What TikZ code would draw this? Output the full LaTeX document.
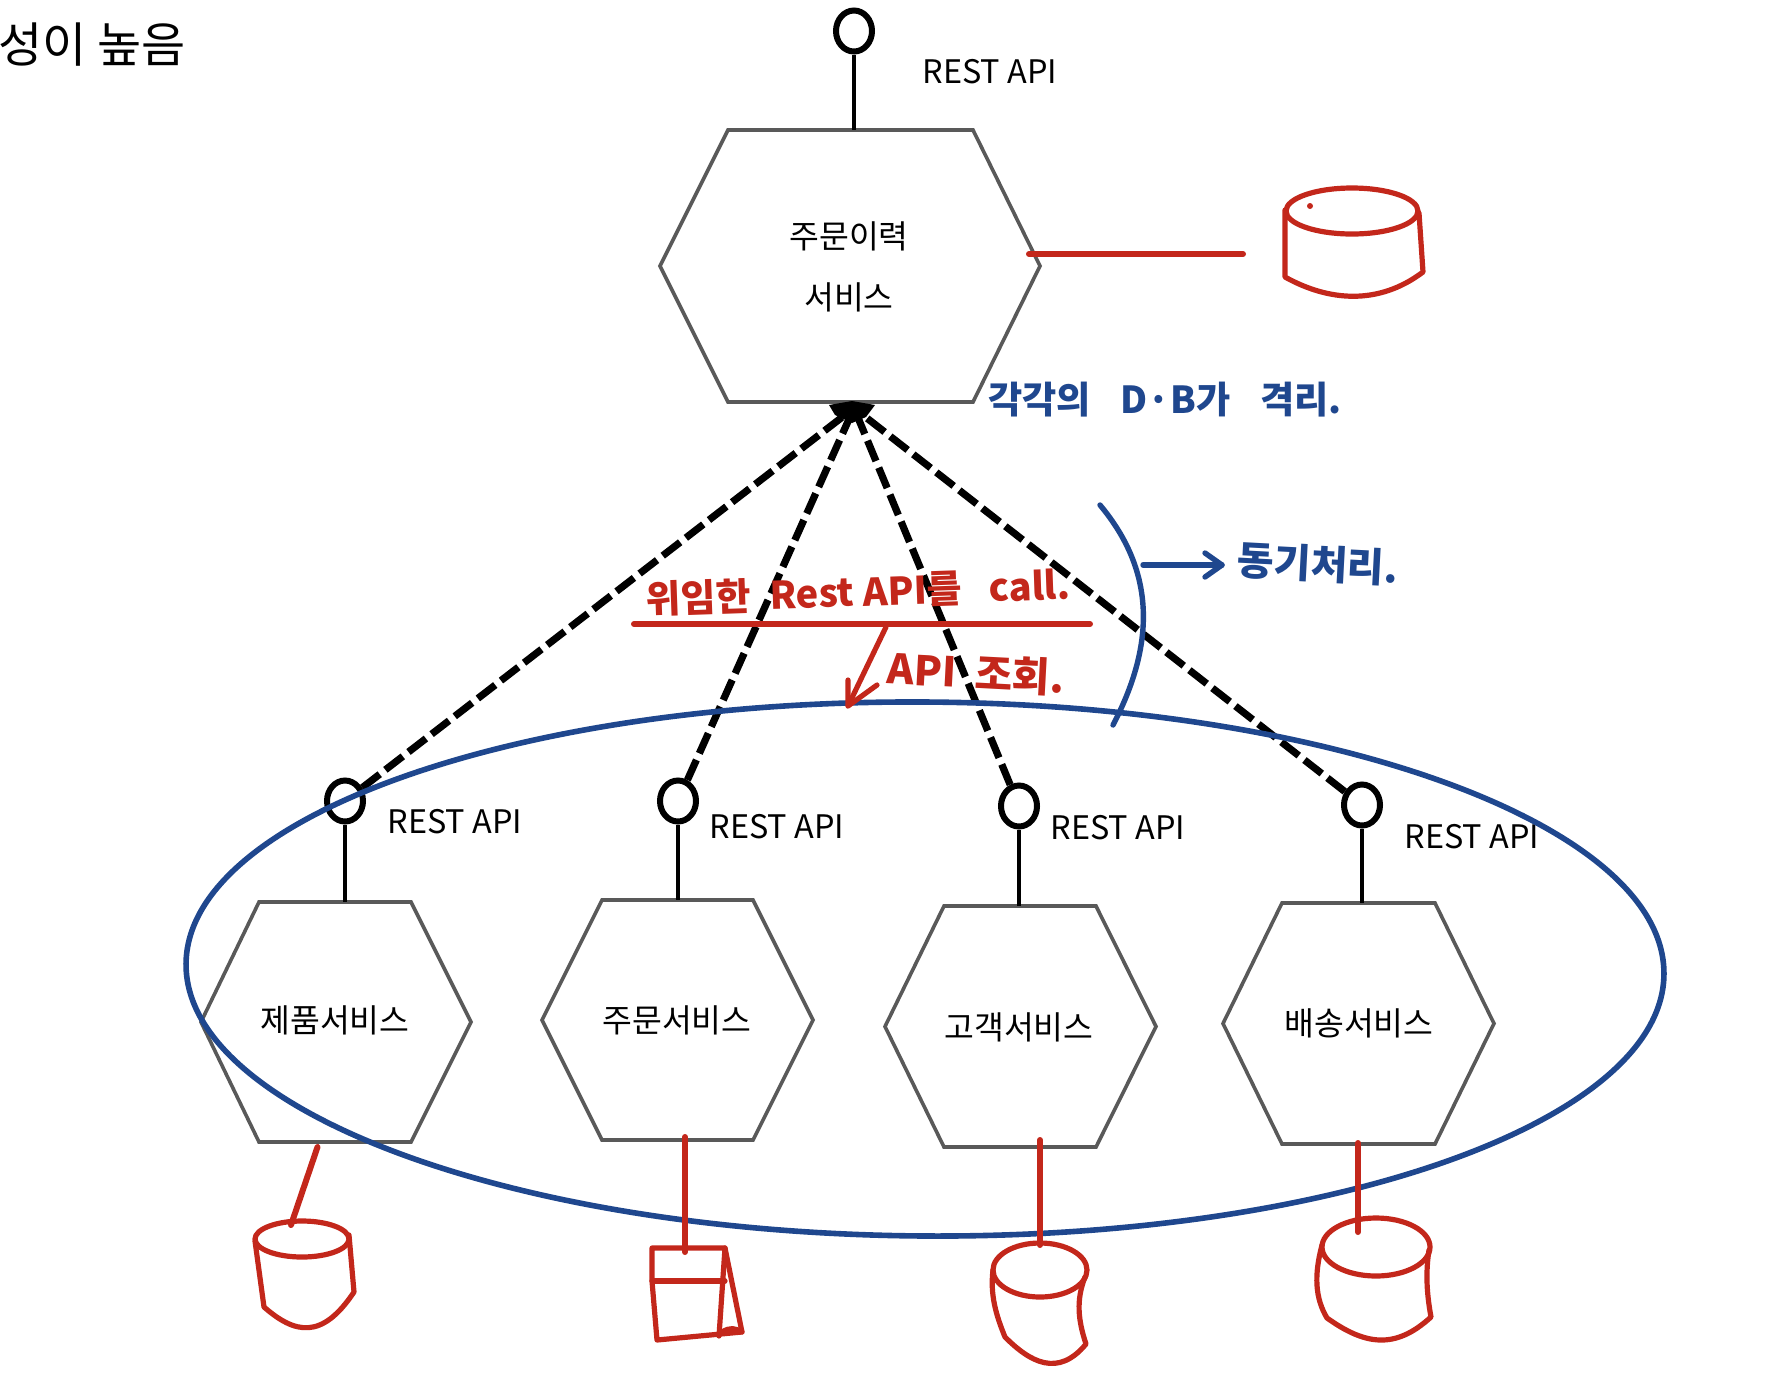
\documentclass[tikz,border=0pt]{standalone}
\usepackage{fontspec}
\setmainfont{Noto Sans CJK KR}
\usetikzlibrary{shapes.geometric,calc}
\definecolor{redink}{HTML}{C3271B}
\definecolor{blueink}{HTML}{1F478E}
\definecolor{hexgray}{HTML}{595959}
\tikzset{
  x=0.5pt,y=-0.5pt,
  hexline/.style={draw=hexgray,line width=1.8pt,line join=miter},
  label/.style={font=\fontsize{16.2}{19}\selectfont,text=black,inner sep=0pt},
  lolli/.style={ellipse,draw=black,line width=3pt,minimum width=18pt,minimum height=20.5pt,inner sep=0pt},
  stem/.style={draw=black,line width=1.8pt},
  dashline/.style={draw=black,line width=3.6pt,dash pattern=on 11pt off 3.6pt},
  redpen/.style={draw=redink,line width=2.6pt,line cap=round,line join=round},
  redlink/.style={draw=redink,line width=3pt,line cap=round,line join=round},
  bluepen/.style={draw=blueink,line width=2.7pt,line cap=round,line join=round},
  bluehand/.style={font=\fontsize{18.6}{22}\selectfont\bfseries,text=blueink,inner sep=0pt},
  redhand/.style={font=\fontsize{19}{22}\selectfont\bfseries,text=redink,inner sep=0pt},
}
% name, x left, x1, x2, x right, y top, y bottom
\newcommand{\hexbox}[7]{%
  \draw[hexline] (#2,{(#6+#7)/2}) -- (#3,#6) -- (#4,#6) -- (#5,{(#6+#7)/2}) -- (#4,#7) -- (#3,#7) -- cycle;
  \coordinate (#1-t) at ({(#3+#4)/2},#6);
  \coordinate (#1-b) at ({(#3+#4)/2},#7);
}
\begin{document}
\begin{tikzpicture}
\useasboundingbox (0,0) rectangle (1790,1394);
% title
\node[anchor=east,font=\fontsize{24}{28}\selectfont,inner sep=0pt] (title) at (186,45) {성이 높음};
% hexagons
\hexbox{top}{660}{728}{973}{1040}{130}{402}
\hexbox{h1}{201}{259}{411}{471}{902}{1142}
\hexbox{h2}{542}{602}{753}{813}{900}{1140}
\hexbox{h3}{885}{944}{1096}{1156}{906}{1147}
\hexbox{h4}{1223}{1282}{1435}{1494}{903}{1144}
\node[label] (topa) at (849,236) {주문이력};
\node[label] (topb) at (849,297) {서비스};
\node[label] (s1) at (335,1020) {제품서비스};
\node[label] (s2) at (677,1020) {주문서비스};
\node[label] (s3) at (1019,1027) {고객서비스};
\node[label] (s4) at (1359,1023) {배송서비스};
% lollipops
\node[lolli] (p0) at (854,31) {};
\node[lolli] (p1) at (345,801) {};
\node[lolli] (p2) at (678,801) {};
\node[lolli] (p3) at (1019,806) {};
\node[lolli] (p4) at (1362,805) {};
\draw[stem] (p0.south) -- (p0.south |- top-t);
\draw[stem] (p1.south) -- (p1.south |- h1-t);
\draw[stem] (p2.south) -- (p2.south |- h2-t);
\draw[stem] (p3.south) -- (p3.south |- h3-t);
\draw[stem] (p4.south) -- (p4.south |- h4-t);
\node[label] (r0) at (990,72) {REST API};
\node[label] (r1) at (455,822) {REST API};
\node[label] (r2) at (777,827) {REST API};
\node[label] (r3) at (1118,828) {REST API};
\node[label] (r4) at (1472,837) {REST API};
% dashed connectors
\coordinate (apex) at (854,408);
\draw[dashline] (p1) -- (apex);
\draw[dashline] (p2) -- (apex);
\draw[dashline] (p3) -- (apex);
\draw[dashline] (p4) -- (apex);
\fill[black] (829,405) -- (852,401) -- (875,405) -- (866,417) -- (852,423) -- (835,415) -- cycle;
% big ellipse
\draw[draw=blueink,line width=2.8pt,rotate around={-0.4:(925,969)}] (925,969) ellipse [x radius=739,y radius=267];
% red database connectors
\draw[redlink] (1029,254) -- (1243,254);
\draw[redlink] (317.5,1147) -- (291,1225);
\draw[redlink] (685,1137) -- (685,1252);
\draw[redlink] (1040,1140) -- (1040,1245);
\draw[redlink] (1358,1143) -- (1358,1232);
% db top
\draw[redpen] (1352,211) ellipse [x radius=66,y radius=23];
\draw[redpen] (1285,210) -- (1285,277) .. controls (1328,301) and (1378,306) .. (1423,272) -- (1419,213);
\fill[redink] (1310,206) circle [radius=3];
% db 1
\draw[redpen] (302,1239) ellipse [x radius=47,y radius=18];
\draw[redpen] (255,1241) -- (264,1307) .. controls (295,1334) and (322,1340) .. (354,1292) -- (349,1235);
% doc
\draw[redpen] (652,1248) -- (725,1248) -- (742,1332) -- (657,1340) -- (652,1281) -- cycle;
\draw[redpen] (652,1281) -- (725,1281);
\draw[redpen] (725,1248) -- (719,1336);
\draw[redpen] (722,1332) .. controls (730,1327) and (735,1328) .. (742,1332);
% db 3
\draw[redpen] (1040,1270) ellipse [x radius=47,y radius=27];
\draw[redpen] (993,1270) .. controls (990,1295) and (996,1315) .. (1005,1337) .. controls (1030,1362) and (1058,1378) .. (1086,1344) .. controls (1078,1320) and (1076,1300) .. (1085,1277);
% db 4
\draw[redpen] (1376,1247) ellipse [x radius=54,y radius=29];
\draw[redpen] (1322,1245) .. controls (1314,1275) and (1315,1298) .. (1327,1318) .. controls (1365,1345) and (1395,1350) .. (1431,1317) .. controls (1426,1290) and (1426,1270) .. (1429,1250);
% red annotation
\draw[redlink] (634,624) -- (1090,624);
\coordinate (tipa) at (848,706);
\draw[redpen] (886,627) -- (tipa);
\draw[redpen] (848,680) -- (tipa) -- (877,685);
\node[redhand,rotate=2] (ann1) at (858,592) {위임한\hspace{0.5em}Rest API를\hspace{0.7em}call.};
\node[redhand,rotate=-3,font=\fontsize{20.5}{24}\selectfont\bfseries] (ann2) at (976,673) {API\hspace{0.45em}조회.};
% blue annotation
\draw[bluepen] (1100,505) .. controls (1150,565) and (1160,635) .. (1113,725);
\coordinate (tipb) at (1222,565);
\draw[bluepen] (1143,565) -- (tipb);
\draw[bluepen] (1205,553) -- (tipb) -- (1205,577);
\node[bluehand] (ann3) at (1165,400) {각각의\hspace{0.8em}D·B가\hspace{0.8em}격리.};
\node[bluehand,font=\fontsize{20}{24}\selectfont\bfseries,rotate=-3] (ann4) at (1318,564) {동기처리.};
\end{tikzpicture}
\end{document}
